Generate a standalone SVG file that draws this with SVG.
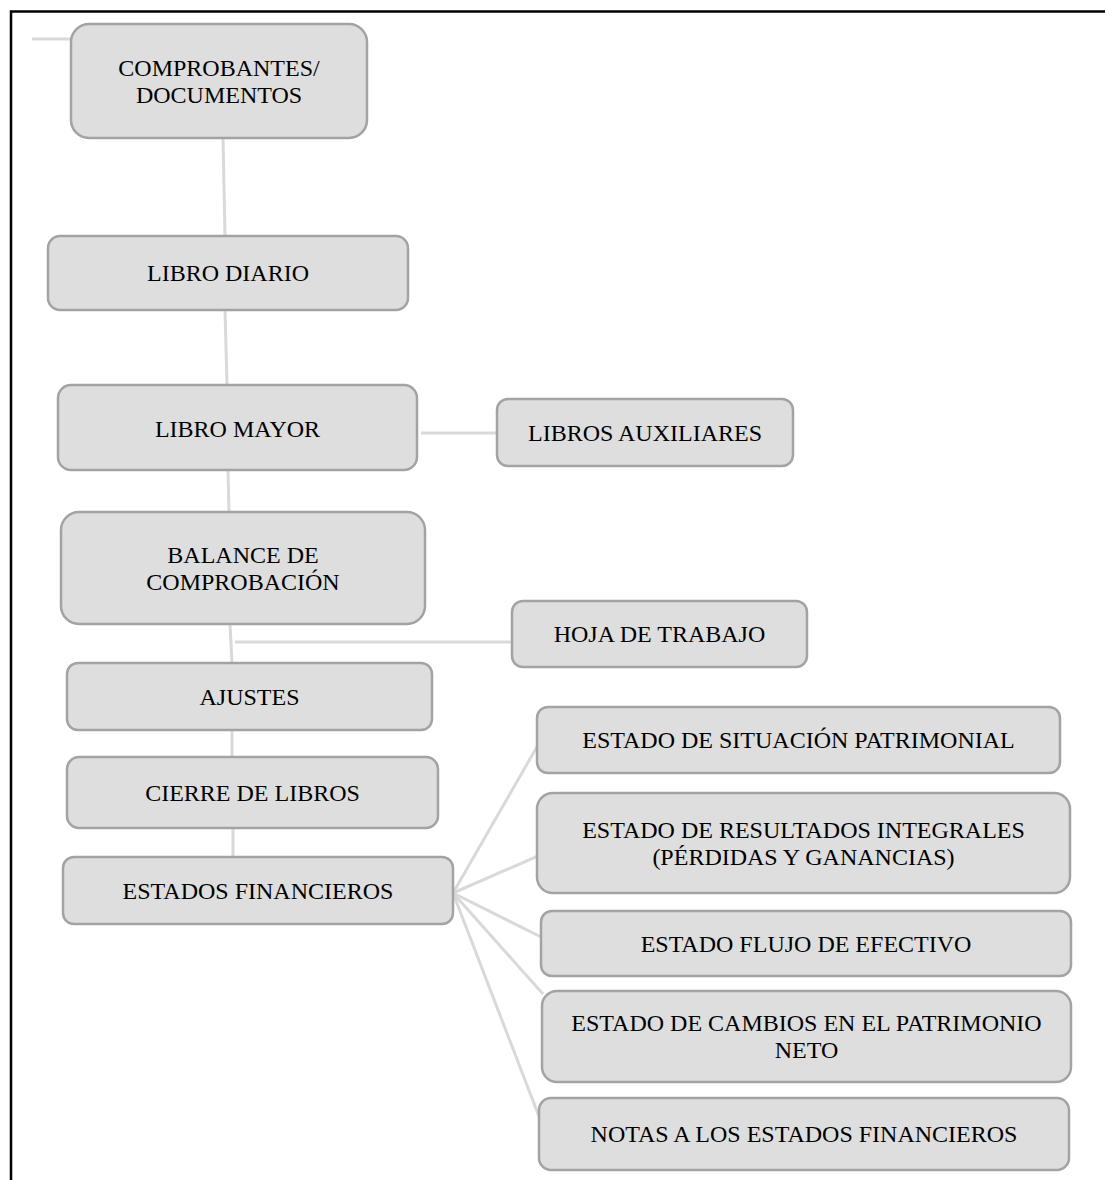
<svg xmlns="http://www.w3.org/2000/svg" width="1105" height="1180" viewBox="0 0 1105 1180">
<style>
.box{fill:#dedede;stroke:#a3a3a3;stroke-width:2.5}
.lbl{font-family:"Liberation Serif","Times New Roman",serif;font-size:24px;fill:#000;text-anchor:middle}
.con{stroke:#d9d9d9;stroke-width:3;fill:none}
.frame{stroke:#000;stroke-width:2.5;fill:none}
</style>
<rect x="0" y="0" width="1105" height="1180" fill="#fff"/>
<path class="frame" d="M11 1180 V11.5 H1105"/>
<g id="connectors">
<line class="con" x1="32" y1="39" x2="71" y2="39"/>
<line class="con" x1="223" y1="138" x2="225" y2="236"/>
<line class="con" x1="225" y1="310" x2="227" y2="385"/>
<line class="con" x1="421" y1="433" x2="497" y2="433"/>
<line class="con" x1="228" y1="470" x2="229" y2="512"/>
<line class="con" x1="230" y1="624" x2="232" y2="663"/>
<line class="con" x1="235" y1="642" x2="512" y2="642"/>
<line class="con" x1="232" y1="730" x2="232" y2="757"/>
<line class="con" x1="233" y1="828" x2="233" y2="857"/>
<line class="con" x1="453" y1="893" x2="538" y2="745"/>
<line class="con" x1="453" y1="893" x2="538" y2="856"/>
<line class="con" x1="453" y1="893" x2="541" y2="937"/>
<line class="con" x1="453" y1="893" x2="543" y2="994"/>
<line class="con" x1="453" y1="893" x2="540" y2="1119"/>
</g>
<g id="comprobantes">
<rect class="box" x="71" y="24" width="296" height="114" rx="18"/>
<text class="lbl" x="219" y="76">COMPROBANTES/</text>
<text class="lbl" x="219" y="103">DOCUMENTOS</text>
</g>
<g id="libro-diario">
<rect class="box" x="48" y="236" width="360" height="74" rx="12"/>
<text class="lbl" x="228" y="281">LIBRO DIARIO</text>
</g>
<g id="libro-mayor">
<rect class="box" x="58" y="385" width="359" height="85" rx="13"/>
<text class="lbl" x="237.5" y="437">LIBRO MAYOR</text>
</g>
<g id="libros-auxiliares">
<rect class="box" x="497" y="399" width="296" height="67" rx="11"/>
<text class="lbl" x="645" y="441">LIBROS AUXILIARES</text>
</g>
<g id="balance">
<rect class="box" x="61" y="512" width="364" height="112" rx="18"/>
<text class="lbl" x="243" y="563">BALANCE DE</text>
<text class="lbl" x="243" y="590">COMPROBACIÓN</text>
</g>
<g id="hoja-trabajo">
<rect class="box" x="512" y="601" width="295" height="66" rx="11"/>
<text class="lbl" x="659.5" y="642">HOJA DE TRABAJO</text>
</g>
<g id="ajustes">
<rect class="box" x="67" y="663" width="365" height="67" rx="11"/>
<text class="lbl" x="249.5" y="705">AJUSTES</text>
</g>
<g id="cierre">
<rect class="box" x="67" y="757" width="371" height="71" rx="12"/>
<text class="lbl" x="252.5" y="801">CIERRE DE LIBROS</text>
</g>
<g id="estados-financieros">
<rect class="box" x="63" y="857" width="390" height="67" rx="11"/>
<text class="lbl" x="258" y="899">ESTADOS FINANCIEROS</text>
</g>
<g id="situacion">
<rect class="box" x="537" y="707" width="523" height="66" rx="11"/>
<text class="lbl" x="798.5" y="748">ESTADO DE SITUACIÓN PATRIMONIAL</text>
</g>
<g id="resultados">
<rect class="box" x="537" y="793" width="533" height="100" rx="16"/>
<text class="lbl" x="803.5" y="838">ESTADO DE RESULTADOS INTEGRALES</text>
<text class="lbl" x="803.5" y="865">(PÉRDIDAS Y GANANCIAS)</text>
</g>
<g id="flujo">
<rect class="box" x="541" y="911" width="530" height="65" rx="11"/>
<text class="lbl" x="806" y="952">ESTADO FLUJO DE EFECTIVO</text>
</g>
<g id="cambios">
<rect class="box" x="542" y="991" width="529" height="91" rx="15"/>
<text class="lbl" x="806.5" y="1031">ESTADO DE CAMBIOS EN EL PATRIMONIO</text>
<text class="lbl" x="806.5" y="1058">NETO</text>
</g>
<g id="notas">
<rect class="box" x="539" y="1098" width="530" height="72" rx="12"/>
<text class="lbl" x="804" y="1142">NOTAS A LOS ESTADOS FINANCIEROS</text>
</g>
</svg>
